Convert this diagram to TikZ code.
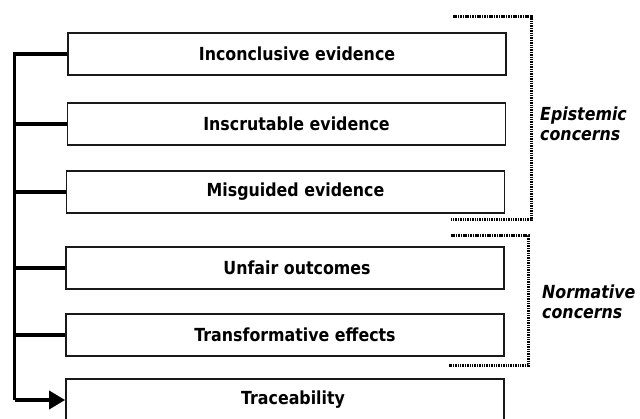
\documentclass[tikz,border=0pt]{standalone}
\usepackage{fontspec}
\setmainfont{DejaVu Sans}
\newfontfamily\narrowbf[FakeStretch=0.88]{DejaVu Sans Bold}
\newfontfamily\narrowbi[FakeStretch=0.88]{DejaVu Sans Bold Oblique}
\usetikzlibrary{arrows.meta}
\begin{document}
\begin{tikzpicture}[x=1pt,y=-1pt,
  box/.style={draw=black!90, line width=1.8pt, minimum width=438pt, minimum height=42pt, inner sep=0pt},
  lbl/.style={font=\fontsize{18}{21}\narrowbf, inner sep=0pt},
  side/.style={font=\fontsize{18}{20.5}\narrowbi, align=left, anchor=west, inner sep=0pt},
  trunk/.style={line width=3.6pt},
  brk/.style={line width=3pt, dash pattern=on 1.5pt off 0.9pt}]
\useasboundingbox (0,0) rectangle (640,419);
\node[box] (b1) at (287,54) {};
\node[box] (b2) at (286.5,124) {};
\node[box] (b3) at (285.5,192) {};
\node[box] (b4) at (285,268) {};
\node[box] (b5) at (285,335) {};
\node[box] (b6) at (285,400) {};
\node[lbl] (t1) at ([xshift=10pt]b1.center) {Inconclusive evidence};
\node[lbl] (t2) at ([xshift=10pt]b2.center) {Inscrutable evidence};
\node[lbl] (t3) at ([xshift=10pt]b3.center) {Misguided evidence};
\node[lbl] (t4) at ([xshift=12pt]b4.center) {Unfair outcomes};
\node[lbl] (t5) at ([xshift=10pt]b5.center) {Transformative effects};
\node[lbl] (t6) at ([xshift=8pt]b6.center) {Traceability};
\coordinate (top) at (14.5,54);
\coordinate (bot) at (14.5,400);
\draw[trunk] (b1.west) -- (top) -- (bot);
\foreach \b in {b2,b3,b4,b5} \draw[trunk] (\b.west) -- (14.5,0 |- \b.west);
\draw[trunk,-{Triangle[length=16pt,width=18pt]}] (bot) -- (b6.west);
\draw[brk] (453,17) -- (531,17) -- (531,220) -- (451,220);
\draw[brk] (451,236) -- (528,236) -- (528,366) -- (449,366);
\node[side] (ep) at (540,124) {Epistemic\\concerns};
\node[side] (no) at (542,302) {Normative\\concerns};
\end{tikzpicture}
\end{document}
